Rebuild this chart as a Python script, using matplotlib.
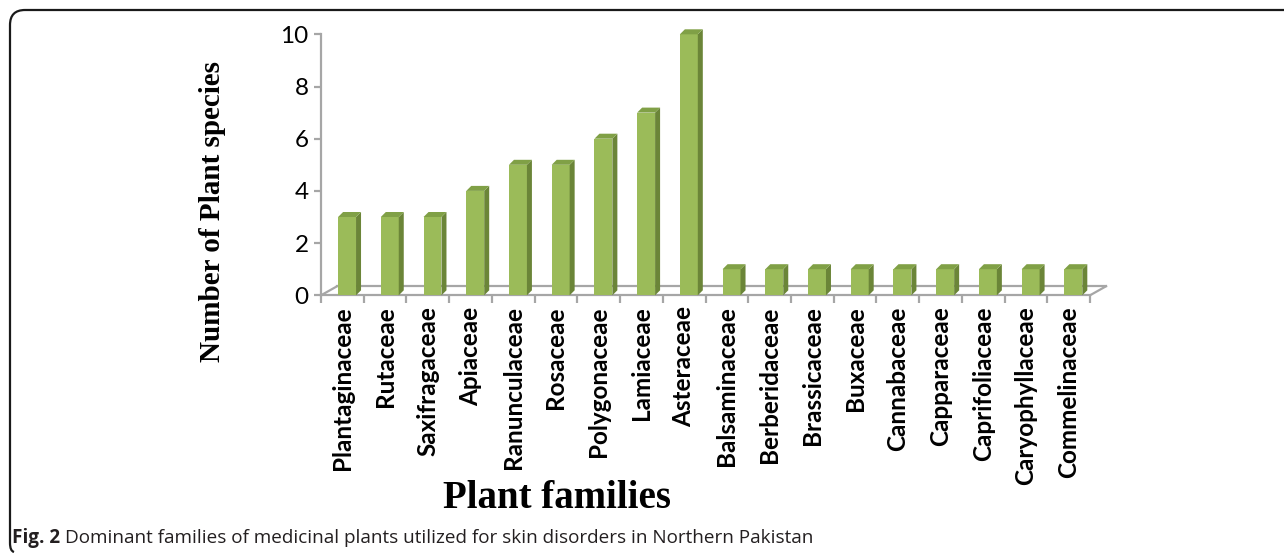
import matplotlib
matplotlib.use("Agg")
import matplotlib.pyplot as plt
from matplotlib.patches import Polygon, PathPatch
from matplotlib.path import Path
from matplotlib.transforms import offset_copy

families = [
    "Plantaginaceae", "Rutaceae", "Saxifragaceae", "Apiaceae", "Ranunculaceae",
    "Rosaceae", "Polygonaceae", "Lamiaceae", "Asteraceae", "Balsaminaceae",
    "Berberidaceae", "Brassicaceae", "Buxaceae", "Cannabaceae", "Capparaceae",
    "Caprifoliaceae", "Caryophyllaceae", "Commelinaceae",
]
species_counts = [3, 3, 3, 4, 5, 5, 6, 7, 10, 1, 1, 1, 1, 1, 1, 1, 1, 1]
y_ticks = [0, 2, 4, 6, 8, 10]

FRONT = "#9bbb59"
SIDE = "#6b8538"
TOP = "#80a046"
AXIS_GREY = "#a6a6a6"

W, H = 1284, 555
fig = plt.figure(figsize=(W / 100, H / 100), dpi=100)

# axes placed in pixels: x from 321 to 1090, y from 295 (0) to 34 (10)
left, right, y0, y10 = 321, 1090, 295.3, 34.3
ax = fig.add_axes([left / W, (H - y0) / H, (right - left) / W, (y0 - y10) / H])
n = len(families)
ax.set_xlim(0, n)
ax.set_ylim(0, 10)

px_x = n / (right - left)      # data units per pixel
px_y = 10 / (y0 - y10)

# bars: front face through ax.bar, side/top faces as polygons
bar_x = [i + 0.40 for i in range(n)]
bar_w = 0.42
ax.bar(bar_x, species_counts, width=bar_w, align="edge", color=FRONT,
       linewidth=0, zorder=3)

ddx, ddy = 5 * px_x, 5 * px_y
for xl, v in zip(bar_x, species_counts):
    xr = xl + bar_w
    side = Polygon([(xr, 0), (xr, v), (xr + ddx, v + ddy), (xr + ddx, ddy)],
                   closed=True, facecolor=SIDE, edgecolor="none", zorder=3,
                   clip_on=False)
    top = Polygon([(xl, v), (xr, v), (xr + ddx, v + ddy), (xl + ddx, v + ddy)],
                  closed=True, facecolor=TOP, edgecolor="none", zorder=3,
                  clip_on=False)
    ax.add_patch(side)
    ax.add_patch(top)

# 3D floor: back edge and diagonals
back = offset_copy(ax.transData, fig=fig, x=16, y=9, units="dots")
ax.plot([0, n], [0, 0], transform=back, color=AXIS_GREY, lw=1.6,
        clip_on=False, zorder=2)
for xe in (0, n):
    ax.plot([xe, xe + 16 * px_x], [0, 9 * px_y], color=AXIS_GREY, lw=1.6,
            clip_on=False, zorder=2)

# spines / ticks
for s in ("top", "right"):
    ax.spines[s].set_visible(False)
ax.spines["left"].set_color(AXIS_GREY)
ax.spines["bottom"].set_color(AXIS_GREY)
ax.spines["left"].set_linewidth(1.6)
ax.spines["bottom"].set_linewidth(1.6)

ax.set_yticks(y_ticks)
ax.set_yticklabels([str(t) for t in y_ticks], fontfamily="Lato", fontsize=17.5)
ax.tick_params(axis="y", length=5, width=1.6, color=AXIS_GREY, pad=4)

ax.set_xticks(range(n + 1), minor=True)
ax.set_xticks([i + 0.5 for i in range(n)])
ax.set_xticklabels(families, rotation=90, fontfamily="Lato",
                   fontweight="bold", fontsize=17.5)
ax.tick_params(axis="x", which="major", length=0, pad=8)
ax.tick_params(axis="x", which="minor", length=6, width=1.6, color=AXIS_GREY)

ax.patch.set_alpha(0)

# axis titles
fig.text(212 / W, 1 - 211 / H, "Number of Plant species", rotation=90,
         ha="center", va="center", fontfamily="Liberation Serif",
         fontweight="bold", fontsize=21)
fig.text(557 / W, 1 - 499 / H, "Plant families", ha="center", va="center",
         fontfamily="Liberation Serif", fontweight="bold", fontsize=28)

# caption
cap_y = 1 - 538 / H
t1 = fig.text(12 / W, cap_y, "Fig. 2", ha="left", va="center",
              fontfamily="Open Sans", fontweight="bold", fontsize=13.6,
              color="#231f20")
renderer = fig.canvas.get_renderer()
bb = t1.get_window_extent(renderer)
fig.text((bb.x1 + 5) / W, cap_y,
         "Dominant families of medicinal plants utilized for skin disorders in Northern Pakistan",
         ha="left", va="center", fontfamily="Open Sans", fontsize=13.6,
         color="#231f20")

# open frame with rounded corners (top and left)
r = 15
verts = [(W, H - 10), (10 + r, H - 10), (10, H - 10), (10, H - 10 - r),
         (10, 12), (10, 4), (14, 3)]
codes = [Path.MOVETO, Path.LINETO, Path.CURVE3, Path.CURVE3,
         Path.LINETO, Path.CURVE3, Path.CURVE3]
frame = PathPatch(Path(verts, codes), transform=None, facecolor="none",
                  edgecolor="#1a1a1a", lw=1.6)
fig.patches.append(frame)

fig.savefig("out.png", dpi=100)
